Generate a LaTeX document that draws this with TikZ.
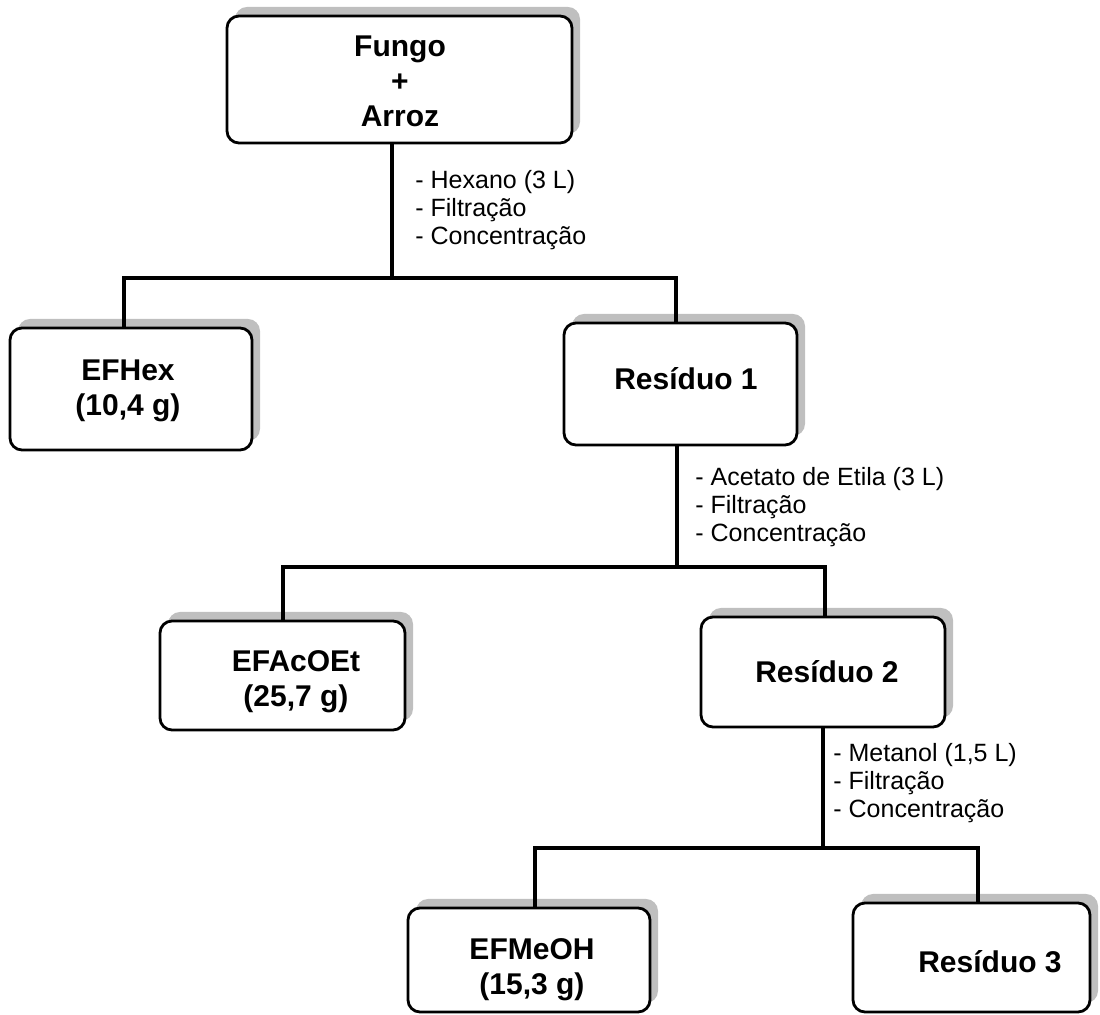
\documentclass[tikz,border=0pt]{standalone}
\usepackage{fontspec}
\setmainfont{Liberation Sans}
\usetikzlibrary{shadows}
\begin{document}
\begin{tikzpicture}[x=0.5pt,y=-0.5pt,
  procbox/.style={draw, line width=1.4pt, rounded corners=6pt, fill=white, inner sep=0pt,
     general shadow={fill=gray!50, shadow xshift=4pt, shadow yshift=4.5pt}},
  boxtext/.style={font=\fontsize{15}{17.5}\selectfont\bfseries, align=center, inner sep=0pt},
  steptext/.style={font=\fontsize{12.5}{14.2}\selectfont, align=left, anchor=west, inner sep=0pt},
  link/.style={line width=1.6pt}]
\useasboundingbox (0,0) rectangle (1100,1015);

% boxes
\node[procbox, minimum width=172.5pt, minimum height=63.5pt] (top) at (399.5,79.5) {};
\node[procbox, minimum width=121pt, minimum height=61pt] (efhex) at (131,389) {};
\node[procbox, minimum width=116.5pt, minimum height=61pt] (r1) at (680.5,384) {};
\node[procbox, minimum width=122.5pt, minimum height=54.5pt] (efacoet) at (282.5,675.5) {};
\node[procbox, minimum width=122pt, minimum height=55pt] (r2) at (823,672) {};
\node[procbox, minimum width=121pt, minimum height=52pt] (efmeoh) at (529,960) {};
\node[procbox, minimum width=118.5pt, minimum height=54.5pt] (r3) at (971.5,957.5) {};

% box texts
\node[boxtext] (topt) at (400,81) {Fungo\\+\\Arroz};
\node[boxtext] (efhext) at (128,391) {EFHex\\(10,4 g)};
\node[boxtext] (r1t) at (686,379) {Resíduo 1};
\node[boxtext] (efacoett) at (296,682) {EFAcOEt\\(25,7 g)};
\node[boxtext] (r2t) at (827,672) {Resíduo 2};
\node[boxtext] (efmeoht) at (532,970) {EFMeOH\\(15,3 g)};
\node[boxtext] (r3t) at (990,962) {Resíduo 3};

% step descriptions
\node[steptext] (s1) at (415,210) {- Hexano (3 L)\\- Filtração\\- Concentração};
\node[steptext] (s2) at (695,507) {- Acetato de Etila (3 L)\\- Filtração\\- Concentração};
\node[steptext] (s3) at (833,783) {- Metanol (1,5 L)\\- Filtração\\- Concentração};

% first split
\coordinate (j1) at (392,278);
\coordinate (b1l) at (124,278);
\coordinate (b1r) at (676,278);
\draw[link] (top.south -| j1) -- (j1);
\draw[link] (efhex.north -| b1l) -- (b1l) -- (b1r) -- (r1.north -| b1r);

% second split
\coordinate (j2) at (677,567);
\coordinate (b2l) at (283,567);
\coordinate (b2r) at (825,567);
\draw[link] (r1.south -| j2) -- (j2);
\draw[link] (efacoet.north -| b2l) -- (b2l) -- (b2r) -- (r2.north -| b2r);

% third split
\coordinate (j3) at (823,848);
\coordinate (b3l) at (535,848);
\coordinate (b3r) at (978,848);
\draw[link] (r2.south -| j3) -- (j3);
\draw[link] (efmeoh.north -| b3l) -- (b3l) -- (b3r) -- (r3.north -| b3r);
\end{tikzpicture}
\end{document}
